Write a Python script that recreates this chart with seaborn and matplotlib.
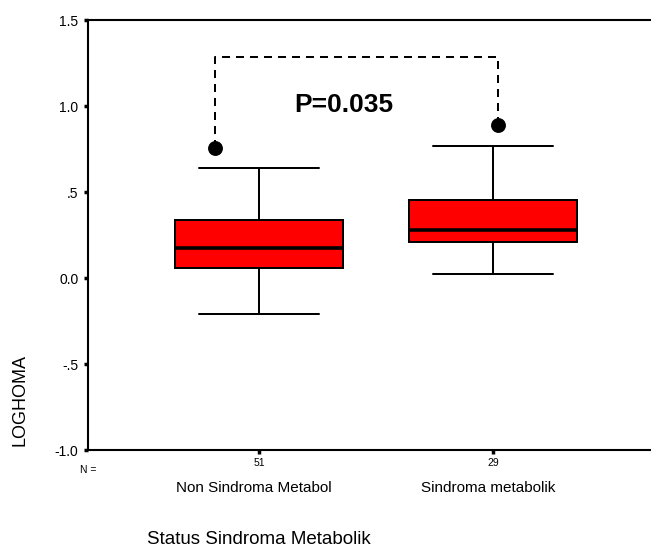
import numpy as np
import pandas as pd
import matplotlib
matplotlib.use("Agg")
import matplotlib.pyplot as plt
from matplotlib.ticker import FuncFormatter
import seaborn as sns

# Groups and sample sizes
groups = ["Non Sindroma Metabol", "Sindroma metabolik"]
counts = [51, 29]

# Box summaries per group: lower whisker, Q1, median, Q3, upper whisker
whisker_low = [-0.21, 0.023]
q1 = [0.058, 0.209]
median = [0.174, 0.279]
q3 = [0.337, 0.453]
whisker_high = [0.64, 0.767]

# Outlying cases per group
outliers = [0.756, 0.892]

p_value = 0.035
y_ticks = [-1.0, -0.5, 0.0, 0.5, 1.0, 1.5]

sns.set_style("white")
plt.rcParams["font.family"] = ["Liberation Sans", "DejaVu Sans"]
plt.rcParams["text.color"] = "black"
plt.rcParams["axes.labelcolor"] = "black"
plt.rcParams["xtick.color"] = "black"
plt.rcParams["ytick.color"] = "black"

rows = []
for i, g in enumerate(groups):
    for v in (whisker_low[i], q1[i], median[i], q3[i], whisker_high[i]):
        rows.append({"group": g, "value": v})
df = pd.DataFrame(rows)

W, H = 651, 548
fig = plt.figure(figsize=(W / 100, H / 100), dpi=100)
ax = fig.add_axes([88 / W, 98 / H, 576 / W, 430 / H])

lw = 1.44
sns.boxplot(
    data=df, x="group", y="value", order=groups, ax=ax,
    color="#ff0000", saturation=1, width=0.72, whis=(0, 100),
    linecolor="black", linewidth=lw, showfliers=False,
    medianprops=dict(linewidth=2.6), capwidths=0.51,
)

# Outliers and the comparison bracket
offsets = [-0.19, 0.02]
ox = [i + o for i, o in enumerate(offsets)]
bracket_y = 1.285
ax.plot([ox[0], ox[0], ox[1], ox[1]],
        [outliers[0], bracket_y, bracket_y, outliers[1]],
        color="black", lw=lw, ls=(0, (4, 3)), zorder=3)
ax.scatter(ox, outliers, s=115, color="black", zorder=4, linewidths=0)
ax.text(0.363, 1.006, f"P={p_value:.3f}", ha="center", va="center",
        fontsize=19, fontweight="bold", color="black")

ax.set_xlim(-0.7308, 1.7308)
ax.set_ylim(y_ticks[0], y_ticks[-1])
ax.set_yticks(y_ticks)


def fmt(v, pos):
    s = f"{v:.1f}"
    if s == "0.5":
        return ".5"
    if s == "-0.5":
        return "-.5"
    return s


ax.yaxis.set_major_formatter(FuncFormatter(fmt))
ax.set_xticks([0, 1])
ax.set_xticklabels([str(c) for c in counts], fontsize=7.5)
ax.tick_params(axis="y", labelsize=10, length=3, width=2.5, pad=4,
               direction="out", left=True, colors="black")
ax.tick_params(axis="x", length=3, width=2.5, pad=3, direction="out",
               bottom=True, colors="black")
ax.set_xlabel("")
ax.set_ylabel("")
for s in ax.spines.values():
    s.set_linewidth(1.5)
    s.set_color("black")

ax.text(0, -0.035, "N =", transform=ax.transAxes, ha="center", va="top",
        fontsize=7.5)

# Group names under the sample sizes
for i, g in enumerate(groups):
    x_fig = ax.transData.transform((i, 0))[0] / W - 0.008
    fig.text(x_fig, 1 - 488 / H, g, ha="center", va="center", fontsize=11)

fig.text(147 / W, 1 - 539 / H, "Status Sindroma Metabolik", ha="left",
         va="center", fontsize=13.5)
fig.text(20 / W, 1 - 400 / H, "LOGHOMA", rotation=90, ha="center",
         va="center", fontsize=13)

fig.savefig("out.png", dpi=100)
